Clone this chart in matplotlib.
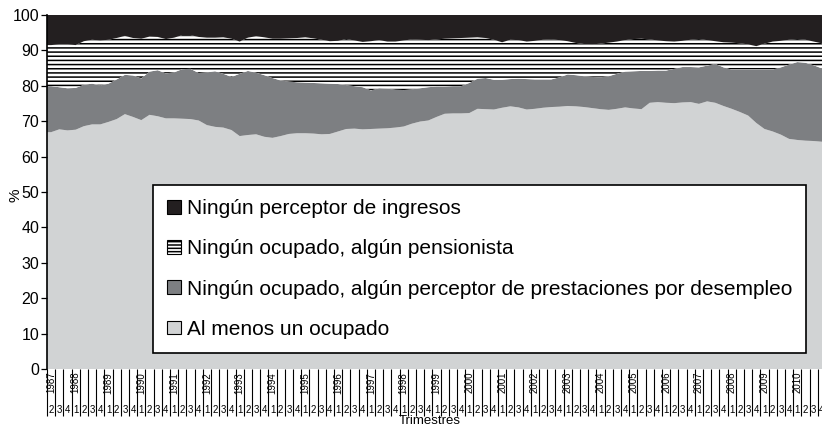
import numpy as np
import matplotlib.pyplot as plt
from matplotlib.patches import Patch

plt.rcParams['font.family'] = ['Liberation Sans', 'DejaVu Sans']
plt.rcParams['hatch.linewidth'] = 1.1

# quarters from 1987-II to 2010-IV
anios = list(range(1987, 2011))
trimestres = [2, 3, 4] + [1, 2, 3, 4] * 23

# upper edge of each band (%)
tope_ocupado = [
    66.9, 67.7, 67.4, 67.6, 68.6, 69.1, 69.1, 69.8, 70.6, 72.0,
    71.2, 70.3, 71.8, 71.4, 70.8, 70.8, 70.7, 70.6, 70.2, 68.9,
    68.4, 68.2, 67.5, 65.8, 66.1, 66.3, 65.6, 65.3, 65.8, 66.4,
    66.6, 66.6, 66.5, 66.3, 66.4, 67.1, 67.8, 67.9, 67.7, 67.8,
    67.9, 68.0, 68.2, 68.5, 69.3, 69.9, 70.2, 71.2, 72.1, 72.2,
    72.2, 72.3, 73.5, 73.4, 73.3, 73.8, 74.2, 73.9, 73.3, 73.5,
    73.8, 74.0, 74.1, 74.3, 74.2, 74.0, 73.7, 73.4, 73.2, 73.5,
    73.9, 73.6, 73.4, 75.2, 75.4, 75.2, 75.1, 75.3, 75.4, 74.9,
    75.6, 75.2, 74.3, 73.5, 72.6, 71.6, 69.5, 67.8, 67.1, 66.2,
    65.0, 64.7, 64.5, 64.4, 64.2,
]
tope_desempleo = [
    79.9, 79.6, 79.3, 79.4, 80.3, 80.6, 80.1, 80.6, 81.8, 83.1,
    82.9, 82.1, 84.0, 84.4, 83.5, 83.8, 84.7, 84.8, 83.6, 83.8,
    84.1, 83.4, 82.5, 83.4, 84.2, 83.7, 83.0, 82.2, 81.5, 81.2,
    81.0, 80.9, 80.8, 80.7, 80.6, 80.5, 80.2, 79.9, 79.6, 78.7,
    79.3, 79.2, 78.9, 78.8, 79.0, 79.3, 79.6, 79.8, 79.8, 79.9,
    79.9, 80.8, 82.0, 82.2, 81.7, 81.7, 81.9, 82.0, 81.9, 81.8,
    81.8, 81.8, 82.4, 83.2, 83.0, 82.7, 82.5, 82.4, 82.7, 83.4,
    84.0, 84.1, 84.2, 84.2, 84.3, 84.3, 84.8, 85.3, 85.3, 85.2,
    85.7, 86.2, 85.2, 84.6, 84.6, 84.6, 84.6, 84.6, 84.6, 85.2,
    86.0, 86.7, 86.5, 85.8, 84.9,
]
tope_pensionista = [
    91.5, 91.7, 91.7, 91.5, 92.6, 93.0, 92.8, 93.0, 93.5, 94.1,
    93.5, 93.3, 93.9, 93.8, 93.2, 93.6, 94.3, 94.3, 93.8, 93.6,
    93.6, 93.7, 93.3, 92.5, 93.6, 94.0, 93.7, 93.3, 93.3, 93.4,
    93.5, 93.7, 93.4, 93.0, 92.6, 92.7, 93.2, 92.8, 92.4, 92.6,
    92.9, 92.5, 92.5, 92.8, 93.1, 93.0, 92.9, 93.1, 93.3, 93.4,
    93.5, 93.6, 93.7, 93.5, 93.0, 92.3, 93.0, 92.9, 92.5, 92.7,
    93.0, 93.1, 92.9, 92.6, 92.1, 91.8, 91.7, 91.9, 92.2, 92.5,
    92.9, 93.2, 93.3, 93.1, 92.8, 92.6, 92.5, 92.7, 93.0, 93.2,
    92.9, 92.6, 92.3, 92.2, 92.0, 91.7, 91.2, 91.9, 92.5, 92.7,
    93.0, 93.2, 93.0, 92.5, 92.0,
]

etiquetas = [
    "Ningún perceptor de ingresos",
    "Ningún ocupado, algún pensionista",
    "Ningún ocupado, algún perceptor de prestaciones por desempleo",
    "Al menos un ocupado",
]
colores = ["#231f20", "white", "#7d7f82", "#d1d3d4"]

# band widths from the edges
ocupado = np.array(tope_ocupado)
desempleo = np.array(tope_desempleo) - ocupado
pensionista = np.array(tope_pensionista) - np.array(tope_desempleo)
ninguno = 100 - np.array(tope_pensionista)

x = np.arange(len(trimestres))
# stretch the areas to the cell edges
xs = np.r_[x[0] - 0.5, x, x[-1] + 0.5]
bandas = [np.pad(b, 1, mode="edge") for b in (ocupado, desempleo, pensionista, ninguno)]

fig = plt.figure(figsize=(8.22, 4.29), dpi=100)
ax = fig.add_axes([47 / 822, 60 / 429, 779 / 822, 354 / 429])

polys = ax.stackplot(xs, *bandas, colors=[colores[3], colores[2], colores[1], colores[0]],
                     linewidth=0)
polys[2].set_hatch("----")
polys[2].set_edgecolor("black")

ax.set_xlim(-0.5, len(trimestres) - 0.5)
ax.set_ylim(0, 100)
ax.set_yticks(range(0, 101, 10))
ax.tick_params(axis="y", labelsize=11.5, length=4.5, width=0.9, pad=1)
fig.text(15 / 822, 1 - 195 / 429, "%", rotation=90, ha="center", va="center", fontsize=11)

# quarter separators as long ticks
ax.set_xticks(np.arange(len(trimestres) + 1) - 0.5)
ax.set_xticklabels([])
ax.tick_params(axis="x", length=34, width=0.8, color="black")

tr = ax.get_xaxis_transform()
for i, q in enumerate(trimestres):
    ax.text(i, -0.116, str(q), transform=tr, ha="center", va="center", fontsize=7)
pos_anio = [0] + [3 + 4 * k for k in range(len(anios) - 1)]
for p, a in zip(pos_anio, anios):
    ax.text(p, -0.008, str(a), transform=tr, rotation=90, ha="center", va="top", fontsize=7)
fig.text(430 / 822, 1 - 421 / 429, "Trimestres", ha="center", va="center", fontsize=9.5)

for s in ["top", "right", "bottom"]:
    ax.spines[s].set_visible(False)
ax.spines["left"].set_linewidth(1.2)

handles = [
    Patch(facecolor=colores[0], edgecolor="black", linewidth=0.8),
    Patch(facecolor="white", edgecolor="black", linewidth=0.8, hatch="-----"),
    Patch(facecolor=colores[2], edgecolor="black", linewidth=0.8),
    Patch(facecolor=colores[3], edgecolor="black", linewidth=0.8),
]
leg = ax.legend(handles, etiquetas, loc="upper left", bbox_to_anchor=(0.136, 0.52),
                borderaxespad=0, fontsize=15, handlelength=0.65, handleheight=0.65,
                handletextpad=0.3, labelspacing=1.02, borderpad=0.68,
                fancybox=False, framealpha=1, edgecolor="black")
leg.get_frame().set_linewidth(1.2)

fig.savefig("out.png", dpi=100)
